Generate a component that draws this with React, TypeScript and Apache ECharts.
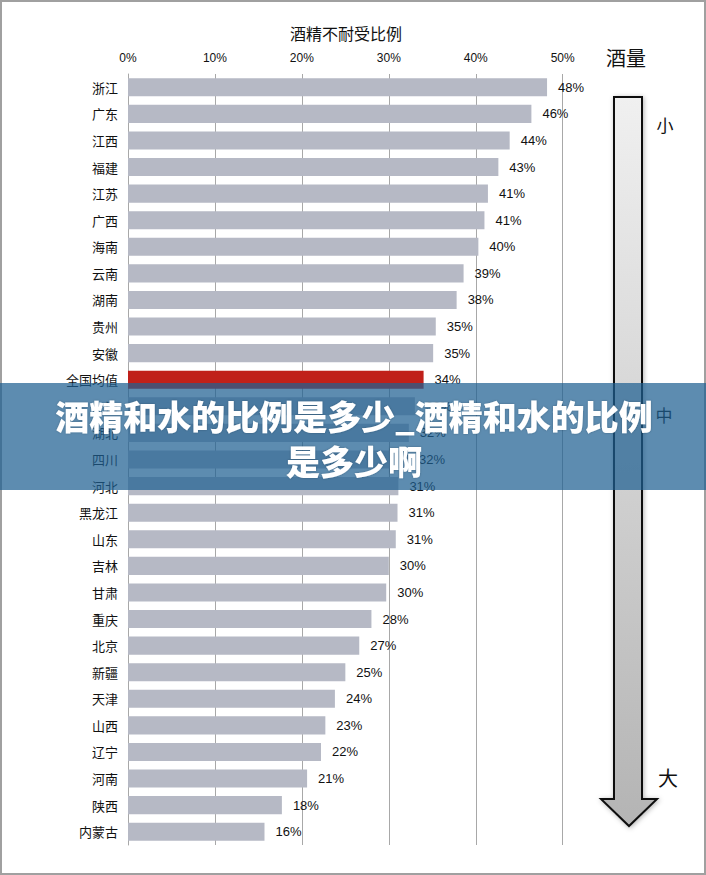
import React, { useEffect, useRef } from "react";
import * as echarts from "echarts";

const categories = [
  "浙江", "广东", "江西", "福建", "江苏", "广西", "海南", "云南", "湖南", "贵州", "安徽",
  "全国均值", "上海", "湖北", "四川", "河北", "黑龙江", "山东", "吉林", "甘肃", "重庆",
  "北京", "新疆", "天津", "山西", "辽宁", "河南", "陕西", "内蒙古",
];
const values = [
  0.482, 0.464, 0.439, 0.426, 0.414, 0.41, 0.403, 0.386, 0.378, 0.354, 0.351,
  0.34, 0.33, 0.323, 0.322, 0.311, 0.31, 0.308, 0.3, 0.297, 0.28,
  0.266, 0.25, 0.238, 0.227, 0.222, 0.206, 0.177, 0.157,
];
const highlight = "全国均值";
const xTicks = [0, 0.1, 0.2, 0.3, 0.4, 0.5];
const chartTitle = "酒精不耐受比例";
const bannerLines = ["酒精和水的比例是多少_酒精和水的比例", "是多少啊"];
const scaleLabels = { head: "酒量", low: "小", mid: "中", high: "大" };

const FONT = "'Liberation Sans', 'Noto Sans CJK SC', sans-serif";
const CJK = "'Noto Sans CJK SC', sans-serif";

export default function App() {
  const ref = useRef<HTMLDivElement>(null);
  useEffect(() => {
    document.body.style.margin = "0";
    const chart = echarts.init(ref.current!, null, { renderer: "svg" });
    chart.setOption({
      animation: false,
      backgroundColor: "#ffffff",
      grid: { left: 128, right: 143.3, top: 74, height: 771, containLabel: false },
      xAxis: {
        type: "value",
        position: "top",
        min: xTicks[0],
        max: xTicks[xTicks.length - 1],
        interval: 0.1,
        axisLine: { show: false },
        axisTick: { show: false },
        axisLabel: {
          margin: 10,
          color: "#111",
          fontSize: 12,
          fontFamily: FONT,
          formatter: (v: number) => Math.round(v * 100) + "%",
        },
        splitLine: { show: true, lineStyle: { color: "#a8a8a8", width: 1 } },
      },
      yAxis: {
        type: "category",
        inverse: true,
        data: categories,
        axisLine: { show: true, lineStyle: { color: "#a8a8a8" } },
        axisTick: { show: false },
        axisLabel: { margin: 10, color: "#111", fontSize: 13, fontFamily: CJK },
      },
      series: [
        {
          type: "bar",
          barCategoryGap: "32%",
          data: values.map((v, i) => ({
            value: v,
            itemStyle: { color: categories[i] === highlight ? "#c0201a" : "#b6b9c5" },
          })),
          label: {
            show: true,
            position: "right",
            distance: 11,
            color: "#111",
            fontSize: 13,
            fontFamily: FONT,
            formatter: (p: any) => Math.round(p.value * 100) + "%",
          },
        },
      ],
      graphic: [
        {
          type: "rect",
          z: 0,
          silent: true,
          shape: { x: 1, y: 1, width: 704, height: 873 },
          style: { fill: "none", stroke: "#a0a0a0", lineWidth: 2 },
        },
        {
          type: "text",
          z: 5,
          x: 346,
          y: 33,
          style: {
            text: chartTitle,
            fill: "#111",
            font: `16px ${CJK}`,
            textAlign: "center",
            textVerticalAlign: "middle",
          },
        },
        {
          type: "text",
          z: 5,
          x: 626,
          y: 57,
          style: {
            text: scaleLabels.head,
            fill: "#111",
            font: `20px ${CJK}`,
            textAlign: "center",
            textVerticalAlign: "middle",
          },
        },
        {
          type: "polygon",
          z: 5,
          shape: {
            points: [
              [614, 97], [642, 97], [642, 799], [657, 799], [629, 826], [601, 799], [614, 799],
            ],
          },
          style: {
            fill: new echarts.graphic.LinearGradient(0, 0, 0, 1, [
              { offset: 0, color: "#f0f0f0" },
              { offset: 1, color: "#b4b4b4" },
            ]),
            stroke: "#111",
            lineWidth: 2,
            shadowBlur: 5,
            shadowColor: "rgba(0,0,0,0.3)",
            shadowOffsetX: 1,
            shadowOffsetY: 1,
          },
        },
        {
          type: "text",
          z: 5,
          x: 665,
          y: 124,
          style: { text: scaleLabels.low, fill: "#111", font: `17px ${CJK}`, textAlign: "center", textVerticalAlign: "middle" },
        },
        {
          type: "text",
          z: 5,
          x: 664,
          y: 414,
          style: { text: scaleLabels.mid, fill: "#111", font: `17px ${CJK}`, textAlign: "center", textVerticalAlign: "middle" },
        },
        {
          type: "text",
          z: 5,
          x: 668,
          y: 777,
          style: { text: scaleLabels.high, fill: "#111", font: `20px ${CJK}`, textAlign: "center", textVerticalAlign: "middle" },
        },
        {
          type: "rect",
          z: 100,
          silent: true,
          shape: { x: 0, y: 383, width: 706, height: 107 },
          style: { fill: "rgba(30,95,145,0.72)" },
        },
        {
          type: "text",
          z: 101,
          x: 354,
          y: 415,
          style: {
            text: bannerLines[0],
            fill: "#ffffff",
            font: `900 34px ${CJK}`,
            textAlign: "center",
            textVerticalAlign: "middle",
            textShadowColor: "rgba(0,0,0,0.25)",
            textShadowBlur: 2,
          },
        },
        {
          type: "text",
          z: 101,
          x: 354,
          y: 460,
          style: {
            text: bannerLines[1],
            fill: "#ffffff",
            font: `900 34px ${CJK}`,
            textAlign: "center",
            textVerticalAlign: "middle",
            textShadowColor: "rgba(0,0,0,0.25)",
            textShadowBlur: 2,
          },
        },
      ],
    });
    return () => chart.dispose();
  }, []);
  return <div ref={ref} style={{ position: "absolute", left: 0, top: 0, width: 706, height: 875 }} />;
}
